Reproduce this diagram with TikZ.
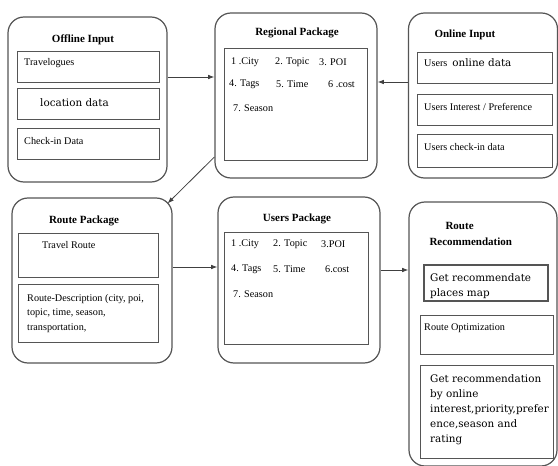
\documentclass[tikz,border=0pt]{standalone}
\usepackage{fontspec}
\setmainfont{Liberation Serif}
\newfontfamily\bigserif{DejaVu Serif}
\usepackage{xcolor}
\usepackage{tikz}
\usetikzlibrary{arrows.meta,positioning}
\definecolor{boxgray}{HTML}{555555}

\begin{document}
\begin{tikzpicture}[x=1pt, y=-1pt,
  pkg/.style={draw=boxgray, line width=1.2pt, rounded corners=16pt},
  item/.style={draw=boxgray, line width=0.9pt},
  ttl/.style={font=\fontsize{11}{13}\selectfont\bfseries},
  txt/.style={font=\fontsize{10.2}{14.5}\selectfont, anchor=west, inner sep=0pt, align=left},
  bigtxt/.style={font=\bigserif\fontsize{10.4}{15.5}\selectfont, anchor=west, inner sep=0pt, align=left},
  arr/.style={-{Latex[length=2.2mm, width=1.6mm]}, line width=0.8pt, draw=black!75}
]
  \useasboundingbox[fill=white] (0,0) rectangle (558,466);
  \clip (0,0) rectangle (558,466);

  % package frames
  \node[pkg, minimum width=159pt, minimum height=165pt] (offline)  at (87.5,99.5) {};
  \node[pkg, minimum width=162pt, minimum height=165pt] (regional) at (296,95.5) {};
  \node[pkg, minimum width=149pt, minimum height=165pt] (online)   at (483,95.5) {};
  \node[pkg, minimum width=160pt, minimum height=165pt] (routepkg) at (92,280.5) {};
  \node[pkg, minimum width=162pt, minimum height=166pt] (users)    at (299,280) {};
  \node[pkg, minimum width=148pt, minimum height=264pt] (routerec) at (483,334) {};

  % titles
  \node[ttl] (offlinettl)  at (83,40)  {Offline Input};
  \node[ttl] (regionalttl) at (297,33) {Regional Package};
  \node[ttl, anchor=west] (onlinettl) at (431,35) {Online Input};
  \node[ttl] (routepkgttl) at (84,221) {Route Package};
  \node[ttl] (usersttl)    at (297,219) {Users Package};
  \node[ttl, align=left, anchor=west, font=\fontsize{11}{16}\selectfont\bfseries]
    (routerecttl) at (426,234) {\hspace*{16pt}Route\\Recommendation};

  % offline input
  \node[item, minimum width=142pt, minimum height=31pt] (travelogues) at (88,66.5) {};
  \node[item, minimum width=142pt, minimum height=31pt] (location)    at (88,103.5) {};
  \node[item, minimum width=142pt, minimum height=31pt] (checkin)     at (88,143.5) {};
  \node[txt]    at (24,63)   {Travelogues};
  \node[bigtxt] at (40,103)  {location data};
  \node[txt]    at (24,141)  {Check-in Data};

  % regional package
  \node[item, minimum width=143pt, minimum height=112pt] (reglist) at (295.5,104) {};
  \node[txt] at (231,62)  {1 .City};
  \node[txt] at (275,62)  {2. Topic};
  \node[txt] at (319,62)  {3. POI};
  \node[txt] at (229,84)  {4. Tags};
  \node[txt] at (276,84)  {5. Time};
  \node[txt] at (328,84)  {6 .cost};
  \node[txt] at (233,108) {7. Season};

  % online input
  \node[item, minimum width=135pt, minimum height=31pt] (onlinedata) at (484.5,67.5) {};
  \node[item, minimum width=135pt, minimum height=31pt] (interest)   at (484.5,109.5) {};
  \node[item, minimum width=135pt, minimum height=33pt] (usercheck)  at (484.5,150.5) {};
  \node[txt] at (424,63)  {Users\hspace{5pt}{\bigserif\fontsize{10.4}{12}\selectfont online data}};
  \node[txt] at (424,107) {Users Interest / Preference};
  \node[txt] at (424,147) {Users check-in data};

  % route package
  \node[item, minimum width=140pt, minimum height=44pt] (travelroute) at (88,255) {};
  \node[item, minimum width=140pt, minimum height=58pt] (routedesc)   at (88,313) {};
  \node[txt] at (42,245) {Travel Route};
  \node[txt, anchor=north west] at (27,294)
    {Route-Description (city, poi,\\topic, time, season,\\transportation,};

  % users package
  \node[item, minimum width=144pt, minimum height=112pt] (userlist) at (296,288) {};
  \node[txt] at (231,244) {1 .City};
  \node[txt] at (273,244) {2. Topic};
  \node[txt] at (321,244) {3.POI};
  \node[txt] at (231,269) {4. Tags};
  \node[txt] at (273,269) {5. Time};
  \node[txt] at (325,269) {6.cost};
  \node[txt] at (233,294) {7. Season};

  % route recommendation
  \node[item, line width=1.3pt, minimum width=124pt, minimum height=36pt] (placesmap) at (486,283) {};
  \node[item, minimum width=133pt, minimum height=39pt] (optim)  at (486.5,334.5) {};
  \node[item, minimum width=133pt, minimum height=93pt] (byuser) at (486.5,411.5) {};
  \node[bigtxt, anchor=north west] at (430,273) {Get recommendate\\places map};
  \node[txt] at (424,328) {Route Optimization};
  \node[bigtxt, anchor=north west, font=\bigserif\fontsize{10.4}{15}\selectfont] at (430,374)
    {Get recommendation\\by online\\interest,priority,prefer\\ence,season and\\rating};

  % flow
  \draw[arr] (offline.east |- 0,77) -- (regional.west |- 0,77);
  \draw[arr] (online.west |- 0,82) -- (regional.east |- 0,82);
  \draw[arr] (regional.217) -- ([xshift=-5pt, yshift=-6pt]routepkg.north east);
  \draw[arr] (routepkg.east |- 0,267) -- (users.west |- 0,267);
  \draw[arr] (users.east |- 0,270) -- (routerec.west |- 0,270);
\end{tikzpicture}
\end{document}
